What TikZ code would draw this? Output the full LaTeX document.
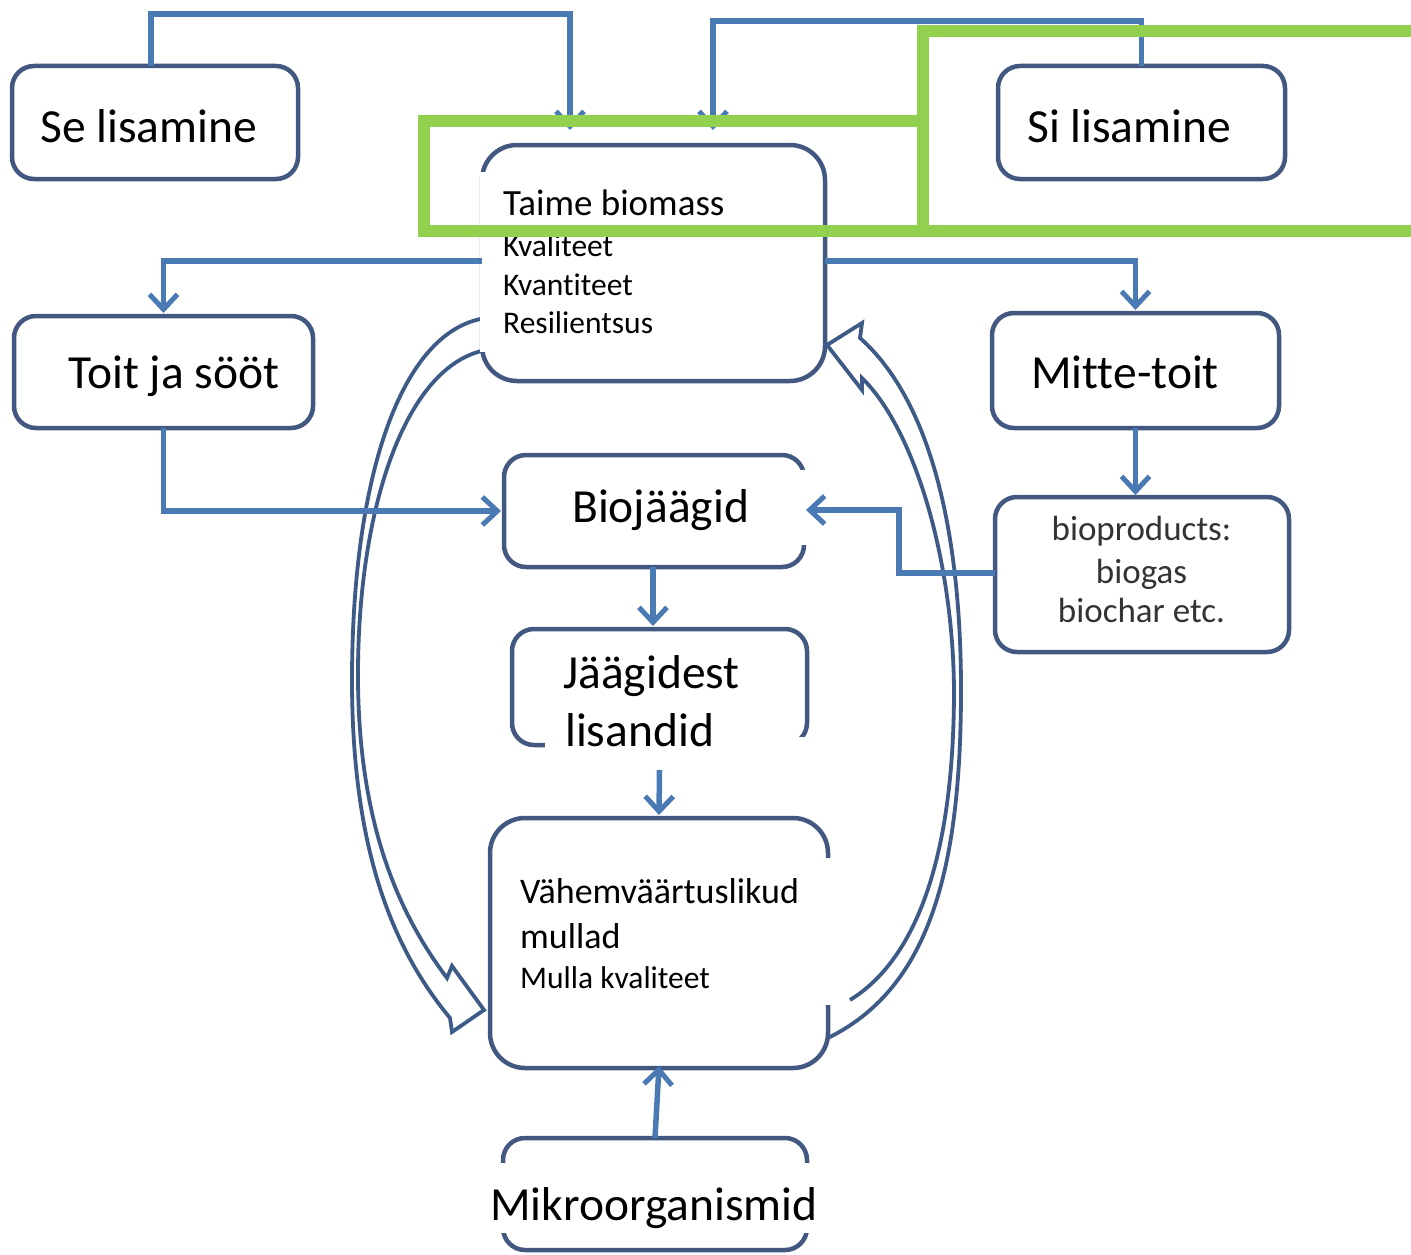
\documentclass[tikz,border=0pt]{standalone}
\usepackage{fontspec}
\setmainfont[Ligatures=NoCommon]{Carlito}
\usetikzlibrary{arrows.meta,calc}
\definecolor{boxc}{RGB}{66,88,128}
\definecolor{conc}{RGB}{74,122,180}
\definecolor{curc}{RGB}{62,90,135}
\definecolor{grn}{RGB}{146,208,80}
\begin{document}
\begin{tikzpicture}[x=1pt,y=-1pt,
  box/.style={draw=boxc, line width=4.5pt, rounded corners=22pt, fill=white, inner sep=0pt, outer sep=0pt},
  bigbox/.style={box, rounded corners=35pt},
  conn/.style={draw=conc, line width=5.5pt, -{Straight Barb[length=15pt,width=28pt,line width=5pt]}},
  curv/.style={draw=curc, line width=3.8pt, line join=miter},
  cover/.style={fill=white},
  big/.style={font=\fontsize{47.5}{56}\selectfont, inner sep=0pt, anchor=base west},
  mid/.style={font=\fontsize{37}{44}\selectfont, inner sep=0pt, anchor=base west},
  small/.style={font=\fontsize{31.5}{37}\selectfont, inner sep=0pt, anchor=base west},
  vah/.style={font=\fontsize{36}{42}\selectfont, inner sep=0pt, anchor=base west},
  bio/.style={font=\fontsize{35}{40}\selectfont, inner sep=0pt, anchor=base, text=black!80},
  green/.style={draw=grn, line width=12pt}
]
\useasboundingbox (0,0) rectangle (1411,1255);
\fill[white] (0,0) rectangle (1411,1255);

% boxes
\node[box, minimum width=286pt, minimum height=113pt] (se) at (155,122.5) {};
\node[box, minimum width=287pt, minimum height=113pt] (si) at (1141.5,122.5) {};
\node[bigbox, minimum width=343pt, minimum height=236pt] (taime) at (653.5,263) {};
\node[box, minimum width=299pt, minimum height=112pt] (toit) at (163.5,372) {};
\node[box, minimum width=287pt, minimum height=115pt] (mitte) at (1135.5,370.5) {};
\node[box, minimum width=294pt, minimum height=155pt] (biop) at (1142,574.5) {};
\node[box, minimum width=300pt, minimum height=112pt] (bioj) at (654,511) {};
\node[box, minimum width=295pt, minimum height=116pt] (jaak) at (659.5,687) {};
\node[bigbox, minimum width=338pt, minimum height=250pt] (vah) at (659,943) {};
\node[box, minimum width=304pt, minimum height=112pt] (mik) at (655,1194) {};

% curved block arrows
\draw[curv] (486,318) .. controls (400,330) and (352,480) .. (352,680)
  .. controls (352,860) and (398,955) .. (450,1018) -- (452,1032) -- (484,1010)
  -- (452,966) -- (447,978) .. controls (402,918) and (359,830) .. (358,680)
  .. controls (357,510) and (405,365) .. (486,350);
\draw[curv] (850,1000) .. controls (915,960) and (954,860) .. (954,690)
  .. controls (953,560) and (915,430) .. (862,378) -- (862,390) -- (827,345)
  -- (862,323) -- (860,338) .. controls (930,400) and (961,530) .. (961,690)
  .. controls (961,880) and (925,990) .. (828,1038);

% white text-box covers
\fill[cover] (479.5,172) rectangle (800,352);
\fill[cover] (520,470) rectangle (807,545);
\fill[cover] (545,737) rectangle (812,768);
\fill[cover] (520,858) rectangle (848,1005);
\fill[cover] (490,1163) rectangle (822,1233);

% connectors
\coordinate (seTip) at (570,130);
\coordinate (siTip) at (713,130);
\draw[conn] ([xshift=-4pt]se.north) -- ++(0,-52) -| (seTip);
\draw[conn] (si.north) -- ++(0,-45) -| (siTip);
\draw[conn] ([yshift=2pt]taime.west) -| ([yshift=3pt]toit.north);
\draw[conn] ([yshift=2pt]taime.east) -| ([yshift=3pt]mitte.north);
\draw[conn] (mitte.south) -- ([yshift=2pt]mitte.south |- biop.north);
\draw[conn] ([yshift=1.5pt]biop.west) -- ++(-96,0) |- ([xshift=2pt,yshift=1pt]bioj.east);
\draw[conn] (toit.south) |- ([xshift=-3pt]bioj.west);
\draw[conn] ([xshift=-1pt]bioj.south) -- ([xshift=-1pt,yshift=3pt]bioj.south |- jaak.north);
\draw[conn] ([yshift=-25pt]jaak.south) -- ([yshift=3pt]vah.north);
\draw[conn] (mik.north) -- ([yshift=2pt]vah.south);

% texts
\node[big] (tse) at (40,142) {Se lisamine};
\node[big] (tsi) at (1027,142) {Si lisamine};
\node[big] (ttoit) at (68,388) {Toit ja sööt};
\node[big] (tmitte) at (1031,388) {Mitte-toit};
\node[big] (tbioj) at (572,522) {Biojäägid};
\node[big] (tjaak1) at (563,688) {Jäägidest};
\node[big] (tjaak2) at (565,746) {lisandid};
\node[big] (tmik) at (490,1220) {Mikroorganismid};
\node[mid] (ttaime) at (503,215) {Taime biomass};
\node[small] (tkval) at (503,256) {Kvaliteet};
\node[small] (tkvan) at (503,295) {Kvantiteet};
\node[small] (tres) at (503,333) {Resilientsus};
\node[vah] (tvah1) at (520,903) {Vähemväärtuslikud};
\node[vah] (tvah2) at (520,948) {mullad};
\node[small] (tvah3) at (520,988) {Mulla kvaliteet};
\node[bio] (tb1) at (1141.5,540) {bioproducts:};
\node[bio] (tb2) at (1141.5,583) {biogas};
\node[bio] (tb3) at (1141.5,622) {biochar etc.};

% green highlight frames
\draw[green] (424,120.5) rectangle (922.5,231);
\draw[green] (1425,31) -- (922.5,31) -- (922.5,231) -- (1425,231);
\end{tikzpicture}
\end{document}
